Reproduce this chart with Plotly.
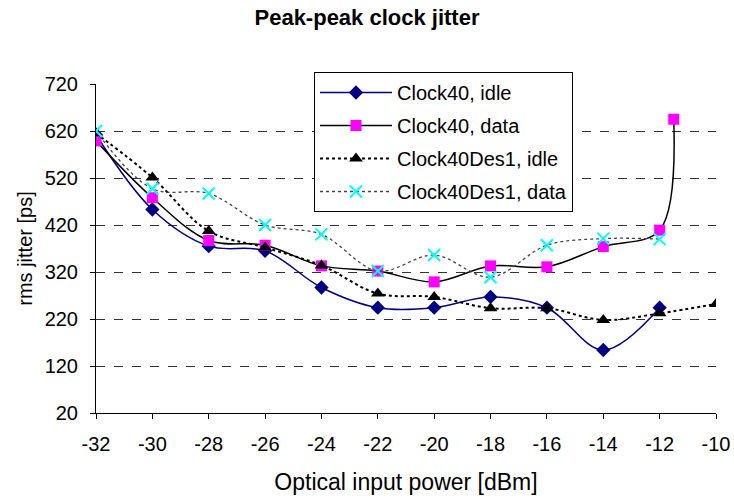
import plotly.graph_objects as go

x_main = [-32, -30, -28, -26, -24, -22, -20, -18, -16, -14, -12]
clock40_idle = [612, 453, 375, 365, 287, 244, 244, 267, 244, 154, 244]

x_c40_data = [-32, -30, -28, -26, -24, -22, -20, -18, -16, -14, -12, -11.5]
clock40_data = [599, 478, 387, 377, 333, 322, 299, 333, 331, 374, 409, 645]

x_des1_idle = [-32, -30, -28, -26, -24, -22, -20, -18, -16, -14, -12, -10]
des1_idle = [615, 521, 407, 372, 334, 274, 267, 243, 243, 218, 232, 252]

x_des1_data = [-32, -30, -28, -26, -24, -22, -20, -18, -16, -14, -12]
des1_data = [620, 497, 487, 420, 400, 322, 356, 309, 377, 391, 390]

y_ticks = [20, 120, 220, 320, 420, 520, 620, 720]
x_ticks = [-32, -30, -28, -26, -24, -22, -20, -18, -16, -14, -12, -10]
x_tick_labels = [str(v) for v in x_ticks]

FONT = "Liberation Sans, Arial, sans-serif"

fig = go.Figure()
fig.add_trace(go.Scatter(
    x=x_main, y=clock40_idle, name="Clock40, idle", mode="lines+markers",
    line=dict(color="#000080", width=1.5, shape="spline"),
    marker=dict(symbol="diamond", size=11, color="#000080"),
    legendgroup="a"))
fig.add_trace(go.Scatter(
    x=x_c40_data, y=clock40_data, name="Clock40, data", mode="lines+markers",
    line=dict(color="black", width=1.5, shape="spline"),
    marker=dict(symbol="square", size=11, color="#ff00ff"),
    legendgroup="b"))
fig.add_trace(go.Scatter(
    x=x_des1_idle, y=des1_idle, name="Clock40Des1, idle", mode="lines+markers",
    line=dict(color="black", width=2, dash="dot", shape="spline"),
    marker=dict(symbol="triangle-up", size=12, color="black"),
    legendgroup="c"))
fig.add_trace(go.Scatter(
    x=x_des1_data, y=des1_data, name="Clock40Des1, data", mode="lines+markers",
    line=dict(color="#444444", width=1.3, dash="dot", shape="spline"),
    marker=dict(symbol="x-thin-open", size=12, color="#00ffff",
                line=dict(color="#00ffff", width=2)),
    legendgroup="d"))

fig.update_layout(
    width=734, height=501,
    margin=dict(l=96, r=18, t=84, b=88),
    paper_bgcolor="white", plot_bgcolor="white",
    font=dict(family=FONT, color="black", size=20),
    title=dict(text="<b>Peak-peak clock jitter</b>", x=0.5, xanchor="center",
               y=0.965, yanchor="middle", font=dict(size=22, family=FONT)),
    legend=dict(x=0.3516, y=1.0365, xanchor="left", yanchor="top",
                bordercolor="black", borderwidth=1, bgcolor="white",
                font=dict(size=20, family=FONT), itemwidth=72,
                tracegroupgap=4, traceorder="grouped"),
    xaxis=dict(range=[-32, -10], tickvals=x_ticks, ticktext=x_tick_labels,
               showgrid=False, automargin=False,
               showline=True, linecolor="black", linewidth=1,
               ticks="outside", ticklen=5, tickcolor="black",
               ticklabelstandoff=8,
               tickfont=dict(size=20), zeroline=False,
               title=dict(text="Optical input power [dBm]", font=dict(size=23), standoff=19)),
    yaxis=dict(range=[20, 720], tickvals=y_ticks, showgrid=True, automargin=False,
               gridcolor="#333333", griddash="dash", gridwidth=1,
               showline=True, linecolor="black", linewidth=1,
               ticks="outside", ticklen=5, tickcolor="black",
               ticklabelstandoff=8,
               tickfont=dict(size=20), zeroline=False,
               title=dict(text="rms jitter [ps]", font=dict(size=20), standoff=6)),
)

fig.write_html("out.html", config={"displayModeBar": False},
               post_script="document.body.style.margin='0';document.body.style.padding='0';")
